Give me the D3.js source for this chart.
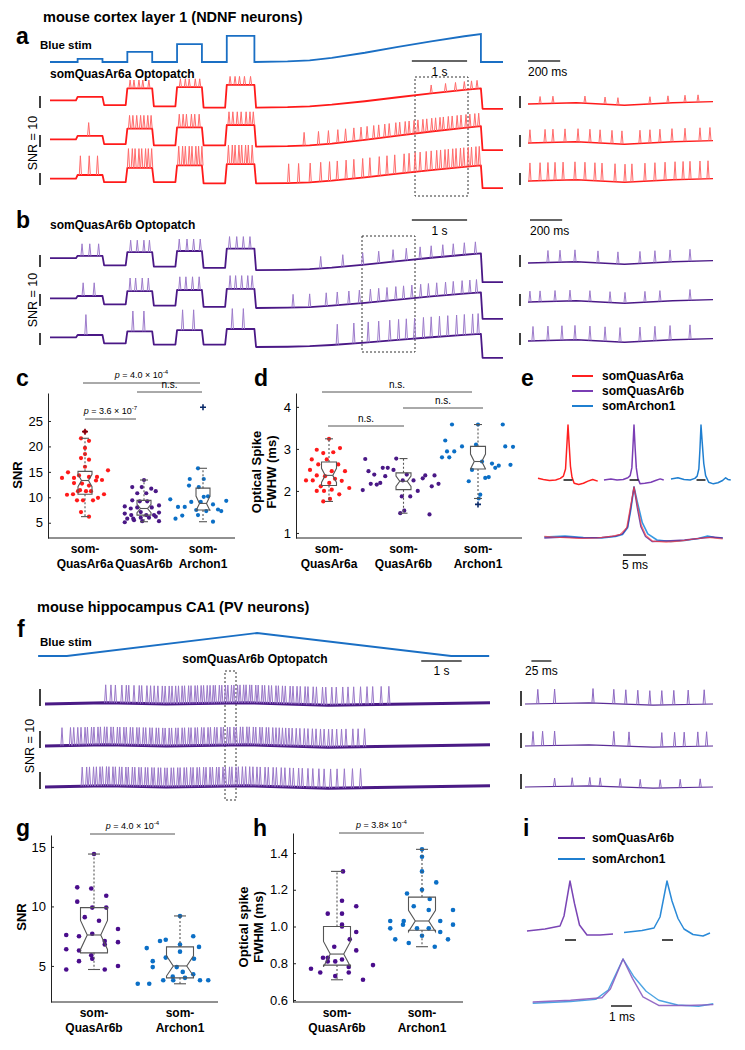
<!DOCTYPE html>
<html><head><meta charset="utf-8">
<script src="https://cdn.jsdelivr.net/npm/d3@7"></script>
<style>
body{margin:0;background:#fff;}
text{font-family:"Liberation Sans",Arial,Helvetica,sans-serif;}
</style></head><body>
<script>
// ---------- data ----------
// blue stim, panels a/b: [start s, end s, relative intensity]
const stimStepsAB = [[0.5,0.95,0.11],[1.4,1.85,0.36],[2.3,2.75,0.64],[3.2,3.7,0.93]];
// ramp [s, relative intensity]
const stimRampAB = [[4.3,0.02],[4.7,0.06],[5.1,0.15],[5.7,0.33],[6.3,0.54],[6.9,0.74],[7.5,0.92],[7.8,1]];
const traceEndAB = 8.2;
// blue stim, panel f [s, relative intensity]
const stimF = [[-0.17,0],[0.54,0],[5.24,1],[10.04,0],[10.98,0]];

// trace levels (SNR units): pre, step1, gap1, step2, gap2, step3, gap3, step4, rampStart, rampEnd, post
const levelsA = [
  [3,6,-1,13,-2,14,-3,16,-3,13,-4],
  [3,6,-1,12,-2,13,-2,15,-3,14,-6],
  [2,5,-1,11,-1,13,-2,14,-2,13,-6]];
const levelsB = [
  [4,6,-2,9,-3,10,-4,12,-6,8,-16],
  [3,5,-2,9,-3,10,-4,11,-5,8,-14],
  [3,5,-2,8,-3,9,-3,10,-5,6,-14]];
// spike times (s) and spike amplitudes (SNR)
const spikesA = [
  [1.45,1.52,1.61,1.68,1.79,2.36,2.45,2.52,2.63,2.71,3.26,3.35,3.43,3.52,3.63,6.9,7.16,7.34,7.5,7.63,7.73],
  [0.7,1.44,1.5,1.57,1.64,1.7,1.77,1.83,2.34,2.41,2.47,2.56,2.62,2.7,3.24,3.31,3.39,3.46,3.55,3.62,3.68,
   4.6,4.86,5.04,5.21,5.35,5.5,5.63,5.74,5.86,5.95,6.06,6.14,6.26,6.33,6.43,6.5,6.59,6.66,6.75,6.82,6.91,6.98,7.06,7.12,7.21,7.28,7.37,7.44,7.53,7.6,7.69,7.76],
  [0.55,0.71,0.86,1.42,1.49,1.54,1.61,1.66,1.73,1.78,1.84,2.33,2.4,2.45,2.52,2.57,2.64,2.69,2.75,3.23,3.3,3.35,3.42,3.47,3.54,3.59,3.66,
   4.32,4.5,4.71,4.9,5.06,5.2,5.36,5.5,5.66,5.79,5.96,6.1,6.24,6.41,6.5,6.61,6.7,6.81,6.9,7.0,7.07,7.15,7.21,7.29,7.35,7.43,7.49,7.57,7.63,7.71,7.77]];
const ampA = [7,11,16];
const spikesB = [
  [0.58,0.72,0.88,1.46,1.58,1.7,1.8,2.34,2.48,2.6,2.72,3.25,3.38,3.5,3.62,4.9,5.3,5.66,5.95,6.21,6.45,6.7,6.9,7.11,7.3,7.5,7.7],
  [0.6,0.8,1.45,1.55,1.67,1.78,2.35,2.46,2.58,2.7,3.26,3.36,3.47,3.58,3.66,4.4,4.7,5.0,5.2,5.41,5.6,5.8,5.95,6.1,6.26,6.4,6.55,6.71,6.85,7.0,7.16,7.3,7.46,7.6,7.72],
  [0.65,1.5,1.7,2.4,2.6,3.3,3.5,5.2,5.5,5.76,5.95,6.15,6.31,6.45,6.6,6.76,6.9,7.05,7.2,7.36,7.5,7.65,7.75]];
const ampB = [10,11,17];

// 200 ms zoom traces (ms)
const spikesAR = [
  [75,155,354,479,559,758,870,976,1057],
  [12,106,155,230,311,385,448,522,584,696,758,820,895,976,1069,1131],
  [12,75,124,168,218,292,354,416,460,541,603,646,727,789,852,914,964,1007,1069,1119]];
const ampAR = [6,11,15];
const spikesBR = [
  [124,199,292,435,559,696,789,883,1007],
  [12,75,168,261,385,510,603,727,820,1007],
  [31,124,211,292,385,479,572,696,789,883,1007]];
const ampBR = [10,9,12];
const driftR = [[0,0],[300,1],[600,-1],[900,1],[1150,2]];

// panel f, PV neurons (s)
const spikesF = [
  [1.5,1.63,1.74,1.9,2.01,2.07,2.2,2.33,2.39,2.52,2.61,2.7,2.79,2.9,2.97,3.07,3.14,3.23,3.3,3.39,3.45,3.55,3.61,3.71,3.77,3.86,3.92,4.01,4.08,4.16,4.21,4.31,4.37,4.46,4.52,4.61,4.67,4.76,4.82,4.91,4.97,5.06,5.11,5.21,5.27,5.37,5.43,5.53,5.6,5.71,5.77,5.87,5.94,6.06,6.13,6.23,6.31,6.43,6.5,6.63,6.71,6.86,6.94,7.09,7.2,7.36,7.49,7.63,7.8,7.96,8.1,8.31,8.5],
  [0.42,0.63,0.71,0.81,0.89,0.99,1.05,1.15,1.21,1.31,1.37,1.47,1.53,1.63,1.69,1.79,1.85,1.95,2.01,2.11,2.17,2.27,2.33,2.43,2.49,2.59,2.65,2.75,2.81,2.91,2.97,3.07,3.13,3.23,3.29,3.39,3.45,3.55,3.61,3.71,3.77,3.87,3.93,4.03,4.09,4.19,4.25,4.35,4.41,4.51,4.57,4.67,4.73,4.83,4.89,4.99,5.05,5.15,5.21,5.31,5.37,5.47,5.53,5.63,5.71,5.79,5.87,5.95,6.03,6.11,6.21,6.3,6.41,6.5,6.61,6.7,6.81,6.9,7.01,7.1,7.21,7.33,7.44,7.61,7.74,7.9],
  [0.92,1.03,1.1,1.2,1.27,1.36,1.42,1.52,1.58,1.68,1.74,1.84,1.9,2.0,2.06,2.16,2.22,2.32,2.38,2.48,2.54,2.64,2.7,2.8,2.86,2.96,3.02,3.12,3.18,3.28,3.34,3.44,3.5,3.6,3.66,3.76,3.82,3.92,3.98,4.08,4.14,4.24,4.3,4.4,4.46,4.56,4.62,4.72,4.78,4.88,4.96,5.06,5.14,5.24,5.32,5.44,5.52,5.64,5.72,5.84,5.93,6.05,6.14,6.27,6.36,6.5,6.62,6.77,6.9,7.06,7.22,7.4,7.6,7.8]];
const ampF = [15,15,16];
const driftF = [[0,0],[1.5,1],[3,0],[5,1],[7,-1],[9,0],[11,1]];
// 25 ms zoom traces (ms)
const spikesFR = [
  [16,37,85,111,126,141,156,171,186,204,224],
  [10,22,37,111,130,171,187,199,216,227],
  [37,59,81,94,119,144,169,194,219]];
const ampFR = [12,12,7];

// panel e average spikes [ms, normalised]
const wfQ6a = [[-19.5,0.03],[-16,0.01],[-12,-0.01],[-8,0],[-5,0.03],[-3,0.07],[-1.6,0.2],[-0.8,0.6],[0,1],[0.8,0.62],[1.6,0.25],[2.6,0.05],[4,-0.06],[7,-0.08],[10,-0.06],[13,-0.02],[16,0.01],[19.3,-0.02]];
const wfQ6b = [[-19.5,0],[-15,0.02],[-11,0],[-7,0.01],[-4,0.04],[-2.5,0.08],[-1.4,0.22],[-0.7,0.6],[0,1],[0.7,0.6],[1.5,0.22],[2.5,0.03],[4,-0.07],[7,-0.06],[11,-0.04],[14,-0.01],[17,0.02],[19.3,0]];
const wfArch = [[-19.5,0.02],[-15,0.04],[-11,0.01],[-7,0],[-4,0.03],[-2.5,0.07],[-1.4,0.2],[-0.7,0.55],[0,1],[0.8,0.68],[1.8,0.3],[3,0.08],[5,-0.04],[8,-0.07],[11,-0.05],[14,-0.01],[16,0.04],[17.5,0.01],[19.3,0]];
// panel i average spikes
const wfIQ6b = [[-4.3,0],[-2.5,0.04],[-1,0.1],[-0.6,0.3],[0,1],[0.45,0.55],[0.95,0.12],[1.7,-0.08],[3,-0.08],[4.3,-0.06]];
const wfIArch = [[-4.3,-0.03],[-2.5,0.01],[-1.3,0.06],[-0.7,0.28],[0,1],[0.5,0.6],[1.1,0.25],[1.7,0.04],[2.6,-0.07],[3.6,-0.1],[4.3,-0.04]];

// panel c: SNR  [jitter, value]
const groupsC = ["som-QuasAr6a","som-QuasAr6b","som-Archon1"];
const snrQ6a = [[0,22.9],[-.16,21.6],[.16,21.1],[0,19.7],[0,18.5],[-.16,17.7],[.16,17.4],[0,16.0],[.92,15.3],[-.92,13.8],[-.68,14.9],[-.44,13.8],[-.24,14.3],[.16,14.0],[.48,14.0],[.44,13.3],[.68,13.4],[-.44,12.8],[-.12,12.7],[.16,12.3],[-.2,11.4],[-.28,11.2],[.04,11.2],[.24,11.2],[-.72,10.5],[-.48,10.6],[.76,10.6],[.52,9.9],[-.32,9.4],[-.08,9.4],[.32,9.4],[-.16,7.1],[.16,6.2]];
const snrQ6b = [[0,13.4],[-.47,12.0],[-.09,12.0],[.29,11.7],[-.27,10.8],[.09,10.8],[.47,11.2],[-.77,8.2],[-.47,9.4],[-.17,9.2],[.13,9.2],[.6,8.4],[-.53,7.8],[-.27,8.0],[.31,8.0],[-.77,6.8],[-.51,6.5],[-.13,7.1],[.09,6.5],[.4,6.5],[.6,7.0],[-.67,5.8],[-.43,5.8],[-.13,6.0],[.2,6.0],[.47,6.2],[-.77,5.1],[-.4,5.5],[.6,5.3],[-.07,5.3]];
const snrArch = [[-.2,15.7],[-.53,13.6],[.03,13.6],[-.56,12.3],[-.17,12.0],[.03,10.1],[.2,10.2],[-1.31,9.6],[-.47,9.1],[-.09,9.1],[.93,9.3],[-1,8.1],[-.73,8.1],[.4,8.6],[-.27,7.5],[.6,7.6],[.73,7.3],[.13,7.3],[-.83,6.4],[-.2,6.5],[-1.1,5.8],[.4,5.2]];
// box stats [low whisker, q1, median, q3, high whisker]
const boxC = [[6.2,10.6,13.3,15.1,21.6],[5.2,6.5,7.8,9.4,13.4],[5.2,7.5,8.8,11.8,15.7]];
const outC = [[22.9],[],[27.7]];

// panel d: FWHM (ms)
const fwQ6a = [[0,3.24],[-.49,2.98],[.44,3.02],[-.23,2.9],[.17,2.92],[-.69,2.75],[-.09,2.75],[-.43,2.63],[.37,2.63],[-.76,2.5],[.64,2.47],[.11,2.47],[-.49,2.37],[-.16,2.35],[-.92,2.25],[-.65,2.25],[.24,2.29],[.51,2.24],[.01,2.19],[-.33,2.11],[.81,2.07],[-.49,2.0],[-.2,2.0],[.11,2.03],[.41,1.92],[.04,1.81],[-.23,1.75]];
const fwQ6b = [[-1.53,2.76],[-.29,2.77],[-1.4,2.47],[-.83,2.55],[-.63,2.55],[-.4,2.5],[-1.17,2.39],[-.73,2.35],[-1.31,2.17],[-1.07,2.15],[-.93,2.19],[.13,2.39],[.4,2.25],[-.03,2.25],[.77,2.3],[.87,2.37],[.57,2.0],[.27,1.87],[-.07,1.87],[1.13,2.11],[1.4,2.17],[1.24,2.37],[-1.63,2.02],[-.13,1.47],[.03,1.53],[1.04,1.44]];
const fwArch = [[-1.04,3.58],[.99,3.58],[0,3.58],[-1.31,3.2],[-1.44,2.8],[-1.15,2.8],[-1.24,2.94],[-.95,2.94],[-.64,3.06],[-.08,3.1],[1.09,3.06],[.16,2.7],[-.24,2.5],[.56,2.65],[.83,2.6],[.69,2.55],[-.37,2.23],[.29,2.31],[.09,1.91],[.43,2.33],[.03,1.82],[1.3,2.62],[1.4,3.05]];
const boxD = [[1.75,2.13,2.37,2.69,3.24],[1.47,2.03,2.23,2.43,2.77],[1.82,2.52,2.7,3.06,3.58]];
const outD = [[],[],[1.68]];

// panel g: SNR, PV neurons
const groupsG = ["som-QuasAr6b","som-Archon1"];
const snrGQ6b = [[0,14.4],[-.67,11.6],[-.11,11.5],[.49,10.9],[-.67,10.4],[-.07,9.9],[.49,9.9],[-.37,9.1],[.2,8.8],[-1.11,7.6],[-.6,7.5],[-.07,7.7],[.96,8.1],[.43,7.1],[.43,6.8],[-1.11,6.4],[-.6,6.3],[.96,7.0],[-.11,5.9],[-.07,5.6],[-.6,5.4],[-1.11,4.7],[.43,4.7],[.96,5.0]];
const snrGArch = [[0,9.2],[-1.33,6.5],[-.8,7.1],[-.57,7.2],[0,6.8],[.53,7.5],[.76,6.6],[0,6.2],[-1.09,5.4],[-1.09,4.9],[-.57,5.7],[.56,5.6],[-.13,4.9],[.11,4.5],[-.29,4.1],[.53,4.3],[.8,3.8],[1.13,3.8],[.2,4.0],[-.67,3.8],[-.27,3.8],[-1.69,3.5],[-1.23,3.5]];
const boxG = [[4.7,6.1,7.6,9.9,14.4],[3.5,4.0,5.0,6.6,9.2]];

// panel h: FWHM (ms), PV neurons
const fwHQ6b = [[.24,1.30],[.2,1.14],[.2,1.07],[-.37,1.07],[.77,1.11],[.2,1.01],[.2,1.0],[.77,.97],[-.11,.89],[.51,.93],[.77,.87],[-.56,.83],[-.37,.83],[.2,.82],[-.07,.81],[-1.04,.77],[-.67,.75],[-.07,.73],[.47,.78],[.47,.75],[1.04,.71],[1.44,.79],[-.37,.81]];
const fwHArch = [[0,1.42],[0,1.38],[0,1.30],[0,1.2],[.57,1.24],[-.6,1.18],[-.33,1.11],[.31,1.15],[.27,1.09],[-1.27,1.03],[-.73,1.03],[-1.27,.99],[-.76,1.01],[.73,1.03],[1.24,1.09],[-.2,.99],[.27,.99],[.73,.97],[1.24,1.01],[-1.07,.93],[-.53,.91],[0,.95],[.51,.89],[1.04,.93]];
const boxH = [[0.71,0.79,0.85,1.0,1.30],[0.89,0.98,1.03,1.16,1.42]];

// ---------- drawing ----------
const RED = "#ff1a1a", RED_L = "#ff6b6b", PUR = "#4a1886", PUR_L = "#9d7bcb", BLU = "#0b6fc6", STIM = "#1a6fc4";
const svg = d3.select("body").append("svg").attr("width", 745).attr("height", 1050);

function txt(x, y, s, o = {}) {
  return svg.append("text").attr("x", x).attr("y", y).text(s)
    .attr("font-size", o.size || 12).attr("font-weight", o.bold ? "bold" : "normal")
    .attr("text-anchor", o.anchor || "start").attr("fill", o.fill || "#000");
}
function hbar(x1, x2, y, col = "#333", w = 1.5) {
  svg.append("line").attr("x1", x1).attr("x2", x2).attr("y1", y).attr("y2", y).attr("stroke", col).attr("stroke-width", w);
}
function vbar(x, y1, y2) {
  svg.append("line").attr("x1", x).attr("x2", x).attr("y1", y1).attr("y2", y2).attr("stroke", "#000").attr("stroke-width", 1.5);
}
function dashBox(x1, y1, x2, y2) {
  svg.append("rect").attr("x", x1).attr("y", y1).attr("width", x2 - x1).attr("height", y2 - y1)
    .attr("fill", "none").attr("stroke", "#333").attr("stroke-dasharray", "2,2").attr("stroke-width", 1);
}
function rotText(x, y, s, size, bold) {
  svg.append("text").attr("transform", `translate(${x},${y}) rotate(-90)`).attr("text-anchor", "middle")
    .attr("font-size", size).attr("font-weight", bold ? "bold" : "normal").text(s);
}

// trace: baseline through anchors, spikes on top
function drawTrace(xs, y0, k, anchors, spikes, amp, col, colL, sw) {
  const lvl = d3.scaleLinear().domain(anchors.map(d => d[0])).range(anchors.map(d => d[1]));
  const yOf = v => y0 - v * k;
  svg.append("path").attr("d", d3.line().x(d => xs(d[0])).y(d => yOf(d[1]))(anchors))
    .attr("fill", "none").attr("stroke", col).attr("stroke-width", sw).attr("stroke-linejoin", "round");
  svg.append("g").selectAll("path").data(spikes).join("path")
    .attr("d", t => { const x = xs(t), yb = yOf(lvl(t)); return `M${x - 1.1},${yb}L${x},${yb - amp * k}L${x + 1.1},${yb}`; })
    .attr("fill", "none").attr("stroke", colL).attr("stroke-width", 1);
}

function abAnchors(L) {
  const e = 0.03, a = [[0, L[0]]];
  let prev = L[0];
  stimStepsAB.forEach(([t0, t1], i) => {
    a.push([t0 - e, prev], [t0, L[1 + 2 * i]], [t1, L[1 + 2 * i]]);
    prev = i < 3 ? L[2 + 2 * i] : L[8];
    a.push([t1 + e, prev]);
  });
  stimRampAB.forEach(([t, v]) => a.push([t, L[8] + (L[9] - L[8]) * v]));
  a.push([7.8 + e, L[10]], [traceEndAB, L[10]]);
  return a;
}

// ----- panel a / b -----
const tAB = d3.scaleLinear().domain([0, traceEndAB]).range([50, 503]);
const tABR = d3.scaleLinear().domain([0, 1150]).range([528, 713]);
const kAB = 1.2;

txt(43, 22, "mouse cortex layer 1 (NDNF neurons)", { size: 14.5, bold: true });
txt(16, 44, "a", { size: 23, bold: true });
txt(40, 49, "Blue stim", { size: 11.5, bold: true });
const stimPts = [[0, 0]];
stimStepsAB.forEach(([t0, t1, v]) => stimPts.push([t0, 0], [t0, v], [t1, v], [t1, 0]));
stimRampAB.forEach(d => stimPts.push(d));
stimPts.push([7.8, 0], [traceEndAB, 0]);
const yStim = d3.scaleLinear().domain([0, 1]).range([62, 34]);
svg.append("path").attr("d", d3.line().x(d => tAB(d[0])).y(d => yStim(d[1]))(stimPts))
  .attr("fill", "none").attr("stroke", STIM).attr("stroke-width", 1.8);

txt(50, 78, "somQuasAr6a Optopatch", { size: 12, bold: true });
hbar(tAB(6.55), tAB(7.55), 61); txt(tAB(7.05), 76, "1 s", { anchor: "middle" });
hbar(tABR(0), tABR(200), 61); txt(528, 76, "200 ms");
dashBox(415, 77, 468, 196);

const rowA = [104, 143, 181], rowB = [263, 302, 341];
rowA.forEach((y0, i) => {
  drawTrace(tAB, y0, kAB, abAnchors(levelsA[i]), spikesA[i], ampA[i], RED, RED_L, 1.8);
  drawTrace(tABR, y0, kAB, driftR, spikesAR[i], ampAR[i], RED, RED_L, 1.4);
  vbar(40, y0 - 8, y0 + 4); vbar(520, y0 - 8, y0 + 4);
});
rotText(37, 143, "SNR = 10", 12.5);

txt(16, 228, "b", { size: 23, bold: true });
txt(50, 229, "somQuasAr6b Optopatch", { size: 12, bold: true });
hbar(tAB(6.55), tAB(7.55), 220); txt(tAB(7.05), 235, "1 s", { anchor: "middle" });
hbar(530, 530 + tABR(200) - tABR(0), 220); txt(530, 235, "200 ms");
dashBox(362, 236, 415, 352);
rowB.forEach((y0, i) => {
  drawTrace(tAB, y0, kAB, abAnchors(levelsB[i]), spikesB[i], ampB[i], PUR, PUR_L, 1.8);
  drawTrace(tABR, y0, kAB, driftR, spikesBR[i], ampBR[i], PUR, PUR_L, 1.4);
  vbar(40, y0 - 8, y0 + 4); vbar(520, y0 - 8, y0 + 4);
});
rotText(37, 300, "SNR = 10", 12.5);

// ----- box plots -----
function pText(x, y, mant, exp) {
  const t = svg.append("text").attr("x", x).attr("y", y).attr("text-anchor", "middle").attr("font-size", 9);
  t.append("tspan").attr("font-style", "italic").text("p");
  t.append("tspan").text(` = ${mant}`);
  if (exp) t.append("tspan").attr("dy", -4).attr("font-size", 6).text(exp);
}
function boxPanel(p) {
  const y = d3.scaleLinear().domain(p.domain).range([p.bottom, p.top]);
  const x = d3.scalePoint().domain(p.groups).range(p.centers);
  svg.append("g").attr("transform", `translate(${p.left},0)`)
    .call(d3.axisLeft(y).tickValues(p.ticks).tickFormat(p.fmt).tickSizeInner(-3).tickSizeOuter(0).tickPadding(5))
    .call(g => g.selectAll("text").attr("font-size", 13).attr("font-family", '"Liberation Sans",Arial,sans-serif'))
    .call(g => g.selectAll("path,line").attr("stroke", "#222"));
  svg.append("line").attr("x1", p.left).attr("x2", p.right).attr("y1", p.bottom).attr("y2", p.bottom).attr("stroke", "#222");
  p.groups.forEach((name, i) => {
    const cx = x(name), [lo, q1, md, q3, hi] = p.stats[i], pts = p.points[i];
    svg.append("g").selectAll("circle").data(pts).join("circle")
      .attr("cx", d => cx + d[0] * p.spread).attr("cy", d => y(d[1])).attr("r", p.r).attr("fill", p.colors[i]);
    const bw = p.boxW / 2, nh = 1.57 * (q3 - q1) / Math.sqrt(pts.length), nw = bw / 2;
    const g = svg.append("g").attr("fill", "none").attr("stroke", "#555").attr("stroke-width", 1.1);
    g.append("path").attr("d", `M${cx - bw},${y(q3)}H${cx + bw}V${y(md + nh)}L${cx + nw},${y(md)}L${cx + bw},${y(md - nh)}V${y(q1)}H${cx - bw}V${y(md - nh)}L${cx - nw},${y(md)}L${cx - bw},${y(md + nh)}Z`);
    g.append("line").attr("x1", cx - nw).attr("x2", cx + nw).attr("y1", y(md)).attr("y2", y(md));
    g.append("line").attr("x1", cx).attr("x2", cx).attr("y1", y(q3)).attr("y2", y(hi)).attr("stroke-dasharray", "2,2");
    g.append("line").attr("x1", cx).attr("x2", cx).attr("y1", y(q1)).attr("y2", y(lo)).attr("stroke-dasharray", "2,2");
    [lo, hi].forEach(v => g.append("line").attr("x1", cx - p.capW / 2).attr("x2", cx + p.capW / 2).attr("y1", y(v)).attr("y2", y(v)));
    (p.outliers ? p.outliers[i] : []).forEach(v => {
      const yo = y(v), oc = p.outColors[i];
      svg.append("path").attr("d", `M${cx - 3},${yo}H${cx + 3}M${cx},${yo - 3}V${yo + 3}`).attr("stroke", oc).attr("stroke-width", 1.6);
    });
    const [a, b] = [name.slice(0, 4), name.slice(4)];
    txt(cx, p.labelY, a, { size: 12, bold: true, anchor: "middle" });
    txt(cx, p.labelY + 15, b, { size: 12, bold: true, anchor: "middle" });
  });
}
function sig(x1, x2, y, label, isP, exp) {
  hbar(x1, x2, y, "#555", 1);
  if (isP) pText((x1 + x2) / 2, y - 5, label, exp);
  else txt((x1 + x2) / 2, y - 4, label, { size: 10, anchor: "middle" });
}

// c
txt(16, 386, "c", { size: 23, bold: true });
boxPanel({ left: 48, right: 235, top: 393, bottom: 538, domain: [2, 30.5], ticks: [5, 10, 15, 20, 25], fmt: d3.format("d"),
  groups: groupsC, centers: [85, 203], stats: boxC, points: [snrQ6a, snrQ6b, snrArch], outliers: outC,
  colors: [RED, PUR, BLU], outColors: ["#7a0010", PUR, "#0a2a6a"], spread: 25, r: 2.1, boxW: 14, capW: 8, labelY: 553 });
rotText(22, 475, "SNR", 13, true);
sig(83, 200, 383, "4.0 × 10", true, "-4");
sig(137, 202, 392, "n.s.", false);
sig(85, 136, 419, "3.6 × 10", true, "-7");

// d
txt(254, 386, "d", { size: 23, bold: true });
boxPanel({ left: 296, right: 522, top: 393, bottom: 538, domain: [0.88, 4.33], ticks: [1, 2, 3, 4], fmt: d3.format("d"),
  groups: groupsC, centers: [329, 478], stats: boxD, points: [fwQ6a, fwQ6b, fwArch], outliers: outD,
  colors: [RED, PUR, BLU], outColors: ["#7a0010", PUR, "#0a2a6a"], spread: 25, r: 2.1, boxW: 15, capW: 8, labelY: 553 });
rotText(261, 472, "Optical Spike", 13, true);
rotText(276, 472, "FWHW (ms)", 13, true);
sig(322, 472, 392, "n.s.", false);
sig(403, 483, 408, "n.s.", false);
sig(328, 404, 426, "n.s.", false);

// e
txt(521, 386, "e", { size: 23, bold: true });
const legE = [["somQuasAr6a", "#ff2020"], ["somQuasAr6b", "#7a3db4"], ["somArchon1", "#1f7fd0"]];
legE.forEach(([s, c], i) => { hbar(572, 593, 376 + i * 15, c, 2); txt(602, 380 + i * 15, s, { size: 12, bold: true }); });
function drawWave(wf, xs, y0, amp, col, w, op = 1) {
  svg.append("path").attr("d", d3.line().x(d => xs(d[0])).y(d => y0 - d[1] * amp)(wf))
    .attr("fill", "none").attr("stroke", col).attr("stroke-width", w).attr("stroke-opacity", op).attr("stroke-linejoin", "round");
}
[[wfQ6a, 568, "#ff2020"], [wfQ6b, 634, "#7a3db4"], [wfArch, 701, "#1f7fd0"]].forEach(([wf, cx, c]) => {
  const xs = d3.scaleLinear().domain([0, 1]).range([cx, cx + 1.54]);
  drawWave(wf, xs, 480, 55, c, 1.5);
  hbar(xs(-2.9), xs(2.9), 480, "#111", 1.5);
});
const xsE = d3.scaleLinear().domain([0, 5]).range([634, 657]);
drawWave(wfArch, xsE, 538, 51, "#1f8ee0", 1.6, 0.9);
drawWave(wfQ6b, xsE, 538, 51, "#5a2a9a", 1.4, 0.85);
drawWave(wfQ6a, xsE, 538, 51, "#ff3a3a", 1.2, 0.7);
hbar(623, 646, 555, "#222"); txt(635, 569, "5 ms", { anchor: "middle" });

// ----- panel f -----
txt(37, 612, "mouse hippocampus CA1 (PV neurons)", { size: 14.5, bold: true });
txt(17, 637, "f", { size: 23, bold: true });
txt(40, 646, "Blue stim", { size: 11.5, bold: true });
const tF = d3.scaleLinear().domain([0, 11]).range([45, 490]);
const tFR = d3.scaleLinear().domain([0, 235]).range([525, 713]);
const yStimF = d3.scaleLinear().domain([0, 1]).range([656, 633]);
svg.append("path").attr("d", d3.line().x(d => tF(d[0])).y(d => yStimF(d[1]))(stimF))
  .attr("fill", "none").attr("stroke", STIM).attr("stroke-width", 1.8);
txt(255, 663, "somQuasAr6b Optopatch", { size: 12, bold: true, anchor: "middle" });
hbar(tF(9.3), tF(10.3), 661); txt(tF(9.8), 675, "1 s", { anchor: "middle" });
hbar(tFR(8), tFR(33), 661); txt(525, 675, "25 ms");
dashBox(225, 671, 236, 800);
const rowF = [704, 746, 787], kF = 1.2;
rowF.forEach((y0, i) => {
  drawTrace(tF, y0, kF, driftF, spikesF[i], ampF[i], "#4a1a85", "#9a78c9", 3);
  drawTrace(tFR, y0, kF, [[0, 0], [80, 1], [160, -1], [235, 0]], spikesFR[i], ampFR[i], "#5a2c96", "#8d68c2", 1.2);
  vbar(40, y0 - 15, y0 + 2); vbar(521, y0 - 13, y0 + 2);
});
rotText(34, 746, "SNR = 10", 12.5);

// g
txt(16, 836, "g", { size: 23, bold: true });
boxPanel({ left: 51, right: 218, top: 835, bottom: 1002, domain: [1.97, 16.0], ticks: [5, 10, 15], fmt: d3.format("d"),
  groups: groupsG, centers: [94, 180], stats: boxG, points: [snrGQ6b, snrGArch],
  colors: ["#4a0d8c", "#0b6fc6"], spread: 25, r: 2.3, boxW: 27, capW: 12, labelY: 1017 });
rotText(26, 917, "SNR", 13, true);
sig(90, 175, 834, "4.0 × 10", true, "-4");

// h
txt(253, 836, "h", { size: 23, bold: true });
boxPanel({ left: 293, right: 463, top: 833, bottom: 1002, domain: [0.589, 1.509], ticks: [0.6, 0.8, 1.0, 1.2, 1.4], fmt: d3.format(".1f"),
  groups: groupsG, centers: [337, 422], stats: boxH, points: [fwHQ6b, fwHArch],
  colors: ["#4a0d8c", "#0b6fc6"], spread: 25, r: 2.3, boxW: 27, capW: 12, labelY: 1017 });
rotText(248, 927, "Optical spike", 13, true);
rotText(263, 927, "FWHM (ms)", 13, true);
sig(339, 424, 833, "3.8× 10", true, "-4");

// i
txt(523, 836, "i", { size: 23, bold: true });
[["somQuasAr6b", "#5a2296"], ["somArchon1", "#1f7fd0"]].forEach(([s, c], i) => {
  hbar(558, 585, 838 + i * 21, c, 2); txt(592, 842 + i * 21, s, { size: 12, bold: true });
});
[[wfIQ6b, 570, "#7a45b5"], [wfIArch, 667, "#2a8ad8"]].forEach(([wf, cx, c]) => {
  const xs = d3.scaleLinear().domain([0, 1]).range([cx, cx + 10]);
  drawWave(wf, xs, 931, 50, c, 1.5);
  hbar(565 + (cx - 570), 576 + (cx - 570), 940, "#111", 1.5);
});
const xsI = d3.scaleLinear().domain([0, 1]).range([623, 644]);
drawWave(wfIArch, xsI, 1002, 43, "#3a9ae0", 1.4, 0.9);
drawWave(wfIQ6b, xsI, 1002, 43, "#8a5cc0", 1.4, 0.9);
hbar(611, 632, 1006, "#222"); txt(622, 1021, "1 ms", { anchor: "middle" });
</script></body></html>
